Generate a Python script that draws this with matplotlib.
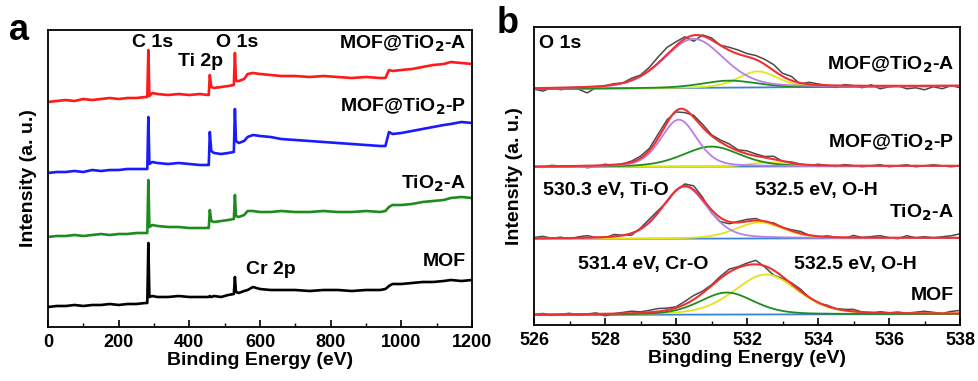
import numpy as np
import matplotlib
matplotlib.use("Agg")
import matplotlib.pyplot as plt
from matplotlib.ticker import MultipleLocator

plt.rcParams["font.family"] = ["Liberation Sans", "DejaVu Sans"]
plt.rcParams["font.weight"] = "bold"
plt.rcParams["mathtext.default"] = "bf"

# --- survey spectra (panel a), intensity in arbitrary units ---
e_a = [0, 25, 50, 75, 100, 125, 150, 175, 200, 225,
       250, 275, 281, 284, 287, 295, 310, 340, 370, 400,
       430, 452, 455, 458, 462, 470, 490, 510, 526, 529,
       532, 540, 555, 565, 580, 600, 630, 660, 700, 740,
       780, 820, 860, 900, 940, 955, 965, 975, 1000, 1030,
       1060, 1090, 1120, 1140, 1170, 1200]
mof_tio2_a = [225, 226, 227, 226, 228, 227, 228, 229, 228, 229,
              229, 230, 230, 277, 231, 234, 233, 232, 233, 232,
              233, 232, 232, 252, 240, 239, 240, 241, 242, 274,
              246, 246, 248, 253, 254, 253, 252, 251, 251, 250,
              251, 250, 249, 250, 249, 249, 257, 256, 257, 258,
              260, 262, 263, 265, 264, 263]
mof_tio2_p = [154, 155, 155, 156, 155, 157, 156, 157, 157, 158,
              158, 158, 158, 210, 163, 165, 164, 163, 164, 163,
              162, 162, 162, 195, 176, 174, 173, 174, 175, 218,
              186, 184, 186, 190, 192, 191, 190, 188, 187, 186,
              185, 184, 183, 182, 181, 181, 195, 193, 194, 196,
              198, 200, 202, 203, 205, 204]
tio2_a = [90, 91, 91, 92, 91, 92, 93, 92, 93, 93,
          94, 94, 94, 147, 100, 102, 101, 100, 100, 99,
          99, 99, 99, 117, 106, 105, 106, 107, 108, 132,
          111, 110, 112, 116, 116, 115, 115, 116, 115, 115,
          116, 115, 115, 116, 115, 116, 120, 122, 122, 123,
          125, 126, 127, 129, 130, 129]
mof = [20, 21, 21, 22, 21, 22, 22, 23, 22, 23,
       23, 24, 24, 84, 30, 31, 30, 30, 31, 30,
       30, 30, 30, 31, 30, 31, 30, 32, 33, 50,
       35, 34, 36, 37, 40, 38, 37, 37, 37, 36,
       37, 37, 36, 37, 37, 38, 41, 43, 43, 44,
       45, 45, 46, 47, 46, 47]
survey_ticks = [0, 200, 400, 600, 800, 1000, 1200]

# --- O 1s high resolution (panel b) ---
# peak fits: (centre eV, height, FWHM eV)
fits = {
    "MOF@TiO$_2$-A": dict(base=(236, 239),
                          purple=(530.5, 49, 2.0), green=(531.5, 7, 1.8),
                          yellow=(532.3, 16, 1.3)),
    "MOF@TiO$_2$-P": dict(base=(158, 159),
                          purple=(530.08, 47, 1.2), green=(531.0, 20, 1.9),
                          yellow=(532.6, 4, 1.2)),
    "TiO$_2$-A": dict(base=(86, 87),
                      purple=(530.25, 52, 1.5), yellow=(532.35, 16, 1.6)),
    "MOF": dict(base=(10, 11),
                green=(531.43, 22, 1.8), yellow=(532.53, 40, 2.1)),
}
e_raw = np.arange(526, 538.001, 0.25)
resid = {
    "MOF@TiO$_2$-A": [-1, -3, 0, -2, -1, -2, -6, -1, 0, 1, 0, 2, 1, 3, 6, 7, 4,
                      2, -6, 1, 2, 0, 3, 4, 3, 4, 5, 6, 3, 4, -1, 2, 1,
                      0, -2, 1, 0, -2, 1, -3, -1, 0, -3, -2, -4, -1, -3, 0, -2],
    "MOF@TiO$_2$-P": [0, -1, 1, 0, -1, 0, -2, -1, 1, -1, 0, 1, 2, 2, 4, 3, -1,
                      -3, 2, 3, 1, 2, 3, 1, 3, 2, 1, 3, 0, 1, 0, -1, 1,
                      0, -1, 1, 0, -1, 0, 1, -1, 0, 1, -1, 0, 1, 0, -1, 0],
    "TiO$_2$-A": [1, 2, 0, 1, -1, 1, 2, 0, -1, 2, 0, -2, 1, 3, 2, -1, 0,
                  2, 4, 2, -3, -4, -2, 1, 2, 2, -1, 1, 0, 1, 2, 0, -1,
                  1, 0, -1, 2, 0, 1, 2, 0, -1, 2, 0, 1, 0, 1, 2, 4],
    "MOF": [0, 1, -1, 0, 1, -1, 0, 1, -2, 0, 1, 2, 1, 2, 3, 2, 1,
            3, 4, 2, 1, 2, 3, 1, 2, 4, -1, -5, -2, 1, 2, 0, -1,
            1, 0, 1, 2, 0, -1, 1, 0, 1, 0, 1, 2, 1, 0, 2, 3],
}
hr_ticks = [526, 528, 530, 532, 534, 536, 538]
comp_colors = {"purple": "#b77fe3", "green": "#1e8c1e", "yellow": "#e4e419"}


def pv(x, c, h, w, m=0.3):
    g = np.exp(-4 * np.log(2) * ((x - c) / w) ** 2)
    lor = 1 / (1 + 4 * ((x - c) / w) ** 2)
    return h * (m * lor + (1 - m) * g)


def envelope(x, f):
    b0, b1 = f["base"]
    y = b0 + (b1 - b0) * (x - 526) / 12
    for k in ("purple", "green", "yellow"):
        if k in f:
            y = y + pv(x, *f[k])
    return y


fig = plt.figure(figsize=(9.79, 3.81), dpi=100)
ax1 = fig.add_axes([48 / 979, 1 - 327 / 381, 424 / 979, 297 / 381])
ax2 = fig.add_axes([534 / 979, 1 - 325 / 381, 426 / 979, 298 / 381])

# panel a
ax1.plot(e_a, mof_tio2_a, color="#ff1a1a", lw=1.9)
ax1.plot(e_a, mof_tio2_p, color="#1a1aff", lw=1.9)
ax1.plot(e_a, tio2_a, color="#1f8a1f", lw=1.9)
ax1.plot(e_a, mof, color="black", lw=1.9)
ax1.set_xlim(0, 1200)
ax1.set_ylim(0, 297)
ax1.set_yticks([])
ax1.set_xticks(survey_ticks)
ax1.xaxis.set_minor_locator(MultipleLocator(100))
ax1.set_xlabel("Binding Energy (eV)", fontsize=14, fontweight="bold", labelpad=1)
ax1.set_ylabel("Intensity (a. u.)", fontsize=14, fontweight="bold", labelpad=8)

tk = dict(fontsize=14, fontweight="bold", transform=ax1.transAxes)
def ya(py):
    return (327 - py) / 297
def xa(px):
    return (px - 48) / 424
ax1.text(xa(153), ya(42), "C 1s", ha="center", va="center", **tk)
ax1.text(xa(237), ya(42), "O 1s", ha="center", va="center", **tk)
ax1.text(xa(201), ya(61), "Ti 2p", ha="center", va="center", **tk)
ax1.text(xa(271), ya(270), "Cr 2p", ha="center", va="center", **tk)
ax1.text(xa(466), ya(44), "MOF@TiO$_2$-A", ha="right", va="center", **tk)
ax1.text(xa(466), ya(107), "MOF@TiO$_2$-P", ha="right", va="center", **tk)
ax1.text(xa(466), ya(184), "TiO$_2$-A", ha="right", va="center", **tk)
ax1.text(xa(466), ya(261), "MOF", ha="right", va="center", **tk)

# panel b
xd = np.linspace(526, 538, 601)
for name, f in fits.items():
    b0, b1 = f["base"]
    base = b0 + (b1 - b0) * (xd - 526) / 12
    raw = envelope(e_raw, f) + np.array(resid[name])
    ax2.plot(xd, base, color="#3c82d8", lw=1.3)
    ax2.plot(e_raw, raw, color="#4a4a4a", lw=1.1)
    for k in ("yellow", "green", "purple"):
        if k in f:
            ax2.plot(xd, base + pv(xd, *f[k]), color=comp_colors[k], lw=1.3)
    ax2.plot(xd, envelope(xd, f), color="#f03030", lw=1.5)
ax2.set_xlim(526, 538)
ax2.set_ylim(0, 298)
ax2.set_yticks([])
ax2.set_xticks(hr_ticks)
ax2.xaxis.set_minor_locator(MultipleLocator(1))
ax2.set_xlabel("Bingding Energy (eV)", fontsize=14, fontweight="bold", labelpad=1)
ax2.set_ylabel("Intensity (a. u.)", fontsize=14, fontweight="bold", labelpad=8)

tb = dict(fontsize=14, fontweight="bold", transform=ax2.transAxes)
def yb(py):
    return (325 - py) / 298
def xb(px):
    return (px - 534) / 426
ax2.text(xb(539), yb(44), "O 1s", ha="left", va="center", **tb)
ax2.text(xb(954), yb(65), "MOF@TiO$_2$-A", ha="right", va="center", **tb)
ax2.text(xb(954), yb(143), "MOF@TiO$_2$-P", ha="right", va="center", **tb)
ax2.text(xb(543), yb(190), "530.3 eV, Ti-O", ha="left", va="center", **tb)
ax2.text(xb(816), yb(190), "532.5 eV, O-H", ha="center", va="center", **tb)
ax2.text(xb(954), yb(213), "TiO$_2$-A", ha="right", va="center", **tb)
ax2.text(xb(643), yb(264), "531.4 eV, Cr-O", ha="center", va="center", **tb)
ax2.text(xb(855), yb(264), "532.5 eV, O-H", ha="center", va="center", **tb)
ax2.text(xb(954), yb(295), "MOF", ha="right", va="center", **tb)

for ax in (ax1, ax2):
    for s in ax.spines.values():
        s.set_linewidth(1.3)
    ax.tick_params(axis="x", which="major", direction="in", length=5, width=1.2,
                   pad=5, labelsize=13)
    ax.tick_params(axis="x", which="minor", direction="in", length=3, width=1.0)
    for lab in ax.get_xticklabels():
        lab.set_fontweight("bold")
        lab.set_family(["Liberation Sans", "DejaVu Sans"])

fig.text(9 / 979, 1 - 40 / 381, "a", fontsize=26, fontweight="bold", va="baseline")
fig.text(497 / 979, 1 - 33 / 381, "b", fontsize=26, fontweight="bold", va="baseline")

fig.savefig("out.png", dpi=100)
